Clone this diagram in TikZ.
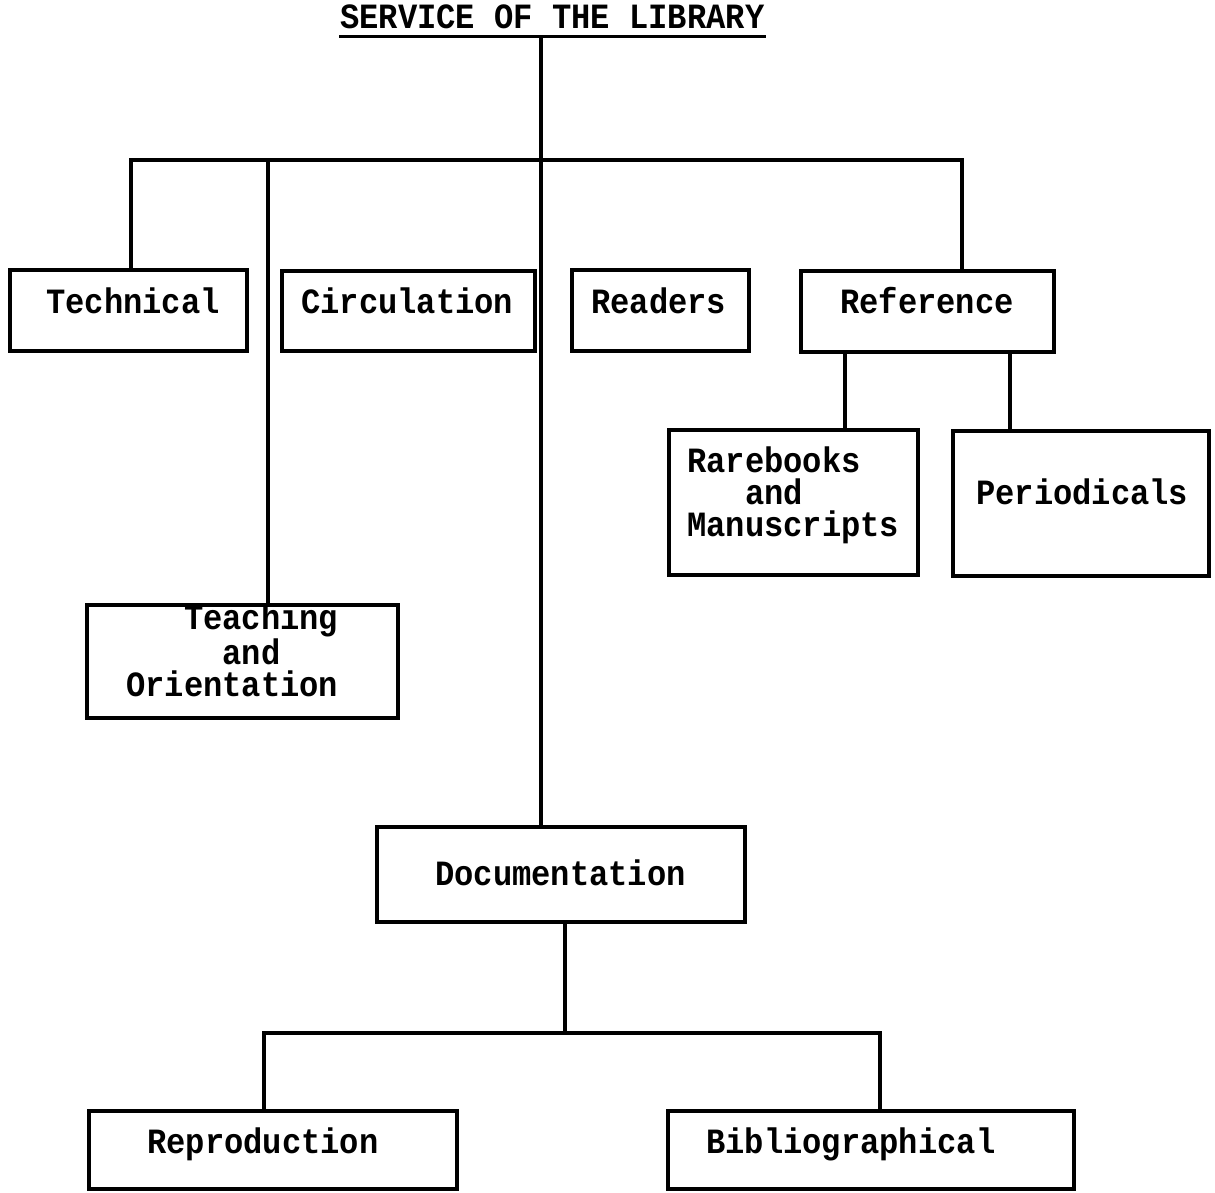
\documentclass[tikz,border=0pt]{standalone}
\usepackage{fontspec}
\newfontfamily\tw[FakeStretch=0.905]{Liberation Mono}
\begin{document}
\begin{tikzpicture}[x=1pt,y=-1pt,
  box/.style={draw, line width=3.2pt, anchor=north west, inner sep=0pt, outer sep=0pt},
  lbl/.style={font=\tw\bfseries\fontsize{35.5}{32}\selectfont, inner sep=0pt, anchor=base west, align=left},
  con/.style={line width=3.2pt}]
\useasboundingbox (0,0) rectangle (1215,1192);

% title
\node[lbl, inner xsep=1pt, inner ysep=8pt] (title) at (339,28) {SERVICE OF THE LIBRARY};
\draw[line width=2.6pt] (title.south west) -- (title.south east);

% boxes
\node[box, minimum width=237pt, minimum height=81pt]  (tech)  at (10,270)  {};
\node[box, minimum width=253pt, minimum height=80pt]  (circ)  at (282,271) {};
\node[box, minimum width=177pt, minimum height=81pt]  (read)  at (572,270) {};
\node[box, minimum width=253pt, minimum height=81pt]  (ref)   at (801,271) {};
\node[box, minimum width=249pt, minimum height=145pt] (rare)  at (669,430) {};
\node[box, minimum width=256pt, minimum height=145pt] (peri)  at (953,431) {};
\node[box, minimum width=311pt, minimum height=113pt] (teach) at (87,605)  {};
\node[box, minimum width=368pt, minimum height=95pt]  (doc)   at (377,827) {};
\node[box, minimum width=368pt, minimum height=78pt]  (repro) at (89,1111) {};
\node[box, minimum width=406pt, minimum height=78pt]  (bib)   at (668,1111) {};

% labels (multi-line labels are anchored at the baseline of their last line)
\node[lbl] (tech-t)  at (46,313)   {Technical};
\node[lbl] (circ-t)  at (301,313)  {Circulation};
\node[lbl] (read-t)  at (591,313)  {Readers};
\node[lbl] (ref-t)   at (840,313)  {Reference};
\node[lbl] (rare-t)  at (687,536)  {Rarebooks\\\hspace*{57.8pt}and\\Manuscripts};
\node[lbl] (peri-t)  at (976,504)  {Periodicals};
\node[lbl] (teach-t) at (126,696)  {\hspace*{57.8pt}Teaching\\\hspace*{96.4pt}and\\Orientation};
\node[lbl] (doc-t)   at (435,885)  {Documentation};
\node[lbl] (repro-t) at (147,1153) {Reproduction};
\node[lbl] (bib-t)   at (706,1153) {Bibliographical};

% junction points
\coordinate (jL) at (131,160);
\coordinate (jT) at (268,160);
\coordinate (jM) at (541,160);
\coordinate (jR) at (962,160);
\coordinate (xA) at (845,0);
\coordinate (xB) at (1010,0);
\coordinate (dj) at (565,1033);
\coordinate (bl) at (264,1033);
\coordinate (br) at (880,1033);

% connectors
\draw[con] (jL |- tech.north) -- (jL) -- (jR) -- (jR |- ref.north);
\draw[con] (jM |- title.south) -- (jM |- doc.north);
\draw[con] (jT) -- (jT |- teach.north);
\draw[con] (xA |- ref.south) -- (xA |- rare.north);
\draw[con] (xB |- ref.south) -- (xB |- peri.north);
\draw[con] (dj |- doc.south) -- (dj);
\draw[con] (bl |- repro.north) -- (bl) -- (br) -- (br |- bib.north);
\end{tikzpicture}
\end{document}
